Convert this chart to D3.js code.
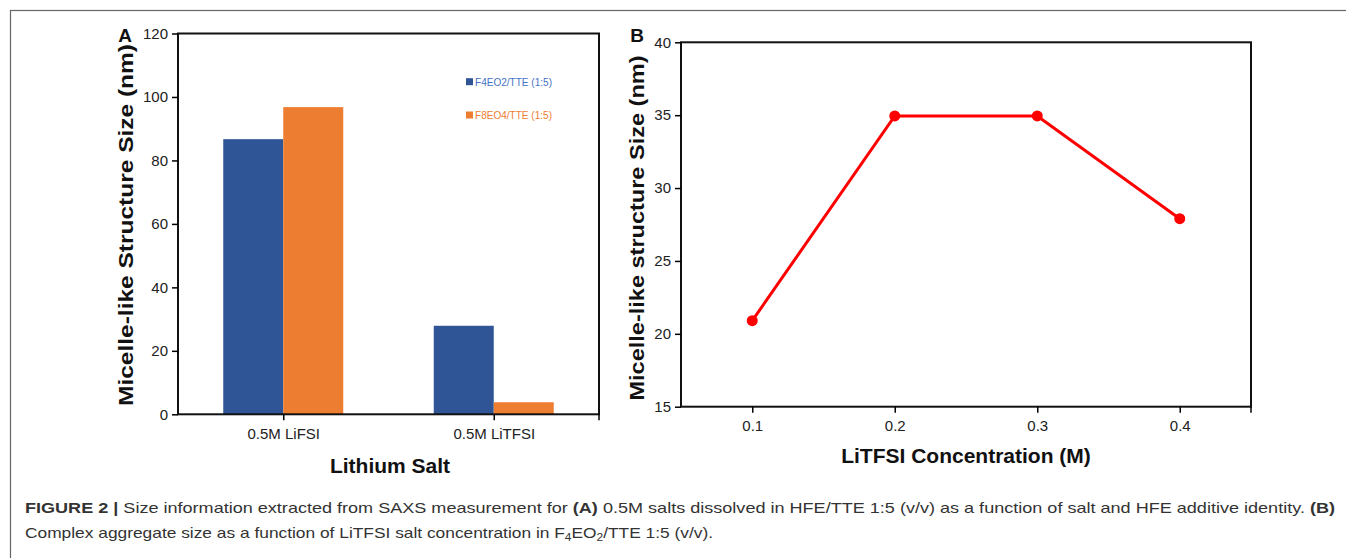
<!DOCTYPE html>
<html>
<head>
<meta charset="utf-8">
<script src="https://cdn.jsdelivr.net/npm/d3@7"></script>
<style>
  body { margin: 0; background: #fff; }
  svg { display: block; }
  .tick text { font-family: "Liberation Sans", Arial, sans-serif; fill: #222; }
</style>
</head>
<body>
<div id="chart"></div>
<script>
// panel A data
var saltCategories = ['0.5M LiFSI', '0.5M LiTFSI'];
var seriesNames = ['F4EO2/TTE (1:5)', 'F8EO4/TTE (1:5)'];
var f4eo2Sizes = [86.7, 27.9];
var f8eo4Sizes = [96.8, 3.8];
var ticksA = [0, 20, 40, 60, 80, 100, 120];

// panel B data
var concentrations = [0.1, 0.2, 0.3, 0.4];
var aggregateSizes = [20.9, 34.95, 34.95, 27.9];
var ticksB = [15, 20, 25, 30, 35, 40];

var W = 1346, H = 558;
var font = '"Liberation Sans", Arial, sans-serif';
var seriesColors = ['#2f5597', '#ed7d31'];
var legendColors = ['#4472c4', '#ed7d31'];

var svg = d3.select('#chart').append('svg')
	.attr('width', W)
	.attr('height', H);

// outer frame of the figure
svg.append('rect')
	.attr('x', 10.5).attr('y', 10.5)
	.attr('width', W).attr('height', H)
	.attr('fill', 'none')
	.attr('stroke', '#666')
	.attr('stroke-width', 1.2);

function styleAxis(g) {
	g.select('.domain').remove();
	g.selectAll('.tick line').attr('stroke', '#000').attr('stroke-width', 1.5);
	g.selectAll('.tick text').attr('font-size', '15px');
}

function drawBox(x0, x1, y0, y1) {
	svg.append('rect')
		.attr('x', x0).attr('y', y0)
		.attr('width', x1 - x0).attr('height', y1 - y0)
		.attr('fill', 'none')
		.attr('stroke', '#111')
		.attr('stroke-width', 2);
}

// ---------- panel A ----------
var ax0 = 178, ax1 = 599, ay0 = 33.5, ay1 = 414.3;
var xA = d3.scalePoint().domain(saltCategories).range([ax0, ax1]).padding(0.5);
var subA = d3.scaleBand().domain(seriesNames).range([-60, 60]);
var yA = d3.scaleLinear().domain([0, 120]).range([ay1, ay0]);

var groups = saltCategories.map(function (c, i) {
	return { cat: c, values: [f4eo2Sizes[i], f8eo4Sizes[i]] };
});

svg.selectAll('.grp')
	.data(groups)
	.enter()
	.append('g')
	.attr('class', 'grp')
	.attr('transform', function (d) { return 'translate(' + xA(d.cat) + ',0)'; })
	.selectAll('rect')
	.data(function (d) { return d.values; })
	.enter()
	.append('rect')
	.attr('x', function (d, i) { return subA(seriesNames[i]); })
	.attr('width', subA.bandwidth())
	.attr('y', function (d) { return yA(d); })
	.attr('height', function (d) { return ay1 - yA(d); })
	.attr('fill', function (d, i) { return seriesColors[i]; });

drawBox(ax0, ax1, ay0, ay1);

svg.append('g')
	.attr('transform', 'translate(' + ax0 + ',0)')
	.call(d3.axisLeft(yA).tickValues(ticksA).tickSize(6).tickPadding(4))
	.call(styleAxis);

svg.append('g')
	.attr('transform', 'translate(0,' + ay1 + ')')
	.call(d3.axisBottom(xA).tickSize(6).tickPadding(8))
	.call(styleAxis);

svg.append('line')
	.attr('x1', ax1).attr('x2', ax1)
	.attr('y1', ay1).attr('y2', ay1 + 6)
	.attr('stroke', '#000').attr('stroke-width', 1.5);

// legend
var legend = svg.selectAll('.legendA')
	.data(seriesNames)
	.enter()
	.append('g')
	.attr('class', 'legendA')
	.attr('transform', function (d, i) { return 'translate(466,' + (81.7 + i * 33.3) + ')'; });
legend.append('rect')
	.attr('x', 0).attr('y', -3.5)
	.attr('width', 7).attr('height', 7)
	.attr('fill', function (d, i) { return seriesColors[i]; });
legend.append('text')
	.attr('x', 9).attr('y', 4)
	.attr('font-family', '"Liberation Sans Narrow", "Liberation Sans", Arial, sans-serif')
	.attr('font-size', '10.5px')
	.attr('textLength', 77)
	.attr('lengthAdjust', 'spacingAndGlyphs')
	.attr('fill', function (d, i) { return legendColors[i]; })
	.text(function (d) { return d; });

svg.append('text')
	.attr('x', 390).attr('y', 473)
	.attr('text-anchor', 'middle')
	.attr('font-family', font)
	.attr('font-weight', 'bold')
	.attr('font-size', '21px')
	.attr('fill', '#111')
	.text('Lithium Salt');

svg.append('text')
	.attr('transform', 'translate(133,225) rotate(-90)')
	.attr('text-anchor', 'middle')
	.attr('font-family', font)
	.attr('font-weight', 'bold')
	.attr('font-size', '20px')
	.attr('fill', '#111')
	.attr('textLength', 362)
	.attr('lengthAdjust', 'spacingAndGlyphs')
	.text('Micelle-like Structure  Size (nm)');

svg.append('text')
	.attr('x', 125).attr('y', 42)
	.attr('text-anchor', 'middle')
	.attr('font-family', font)
	.attr('font-weight', 'bold')
	.attr('font-size', '19px')
	.attr('fill', '#111')
	.text('A');

// ---------- panel B ----------
var bx0 = 681, bx1 = 1251, by0 = 42.3, by1 = 406.7;
var xB = d3.scaleLinear().domain([0.05, 0.45]).range([bx0, bx1]);
var yB = d3.scaleLinear().domain([15, 40]).range([by1, by0]);

drawBox(bx0, bx1, by0, by1);

svg.append('g')
	.attr('transform', 'translate(' + bx0 + ',0)')
	.call(d3.axisLeft(yB).tickValues(ticksB).tickSize(6).tickPadding(4))
	.call(styleAxis);

svg.append('g')
	.attr('transform', 'translate(0,' + by1 + ')')
	.call(d3.axisBottom(xB).tickValues(concentrations).tickFormat(d3.format('.1f')).tickSize(6).tickPadding(8))
	.call(styleAxis);

svg.append('line')
	.attr('x1', bx1).attr('x2', bx1)
	.attr('y1', by1).attr('y2', by1 + 6)
	.attr('stroke', '#000').attr('stroke-width', 1.5);

var points = concentrations.map(function (c, i) { return [c, aggregateSizes[i]]; });

svg.append('path')
	.datum(points)
	.attr('d', d3.line()
		.x(function (d) { return xB(d[0]); })
		.y(function (d) { return yB(d[1]); }))
	.attr('fill', 'none')
	.attr('stroke', '#ff0000')
	.attr('stroke-width', 3);

svg.selectAll('.dotB')
	.data(points)
	.enter()
	.append('circle')
	.attr('class', 'dotB')
	.attr('cx', function (d) { return xB(d[0]); })
	.attr('cy', function (d) { return yB(d[1]); })
	.attr('r', 5.5)
	.attr('fill', '#ff0000');

svg.append('text')
	.attr('x', 966).attr('y', 463)
	.attr('text-anchor', 'middle')
	.attr('font-family', font)
	.attr('font-weight', 'bold')
	.attr('font-size', '21px')
	.attr('fill', '#111')
	.text('LiTFSI Concentration (M)');

svg.append('text')
	.attr('transform', 'translate(644,228) rotate(-90)')
	.attr('text-anchor', 'middle')
	.attr('font-family', font)
	.attr('font-weight', 'bold')
	.attr('font-size', '20px')
	.attr('fill', '#111')
	.attr('textLength', 345)
	.attr('lengthAdjust', 'spacingAndGlyphs')
	.text('Micelle-like structure Size (nm)');

svg.append('text')
	.attr('x', 637).attr('y', 42)
	.attr('text-anchor', 'middle')
	.attr('font-family', font)
	.attr('font-weight', 'bold')
	.attr('font-size', '19px')
	.attr('fill', '#111')
	.text('B');

// ---------- caption ----------
var cap1 = svg.append('text')
	.attr('x', 25).attr('y', 513)
	.attr('font-family', font)
	.attr('font-size', '14.5px')
	.attr('fill', '#333')
	.attr('textLength', 1310)
	.attr('lengthAdjust', 'spacingAndGlyphs');
cap1.append('tspan').attr('font-weight', 'bold').text('FIGURE 2 | ');
cap1.append('tspan').text('Size information extracted from SAXS measurement for ');
cap1.append('tspan').attr('font-weight', 'bold').text('(A)');
cap1.append('tspan').text(' 0.5M salts dissolved in HFE/TTE 1:5 (v/v) as a function of salt and HFE additive identity. ');
cap1.append('tspan').attr('font-weight', 'bold').text('(B)');

var cap2 = svg.append('text')
	.attr('x', 25).attr('y', 538)
	.attr('font-family', font)
	.attr('font-size', '14.5px')
	.attr('fill', '#333')
	.attr('textLength', 688)
	.attr('lengthAdjust', 'spacingAndGlyphs');
cap2.append('tspan').text('Complex aggregate size as a function of LiTFSI salt concentration in F');
cap2.append('tspan').attr('font-size', '10px').attr('dy', 3).text('4');
cap2.append('tspan').attr('dy', -3).text('EO');
cap2.append('tspan').attr('font-size', '10px').attr('dy', 3).text('2');
cap2.append('tspan').attr('dy', -3).text('/TTE 1:5 (v/v).');
</script>
</body>
</html>
